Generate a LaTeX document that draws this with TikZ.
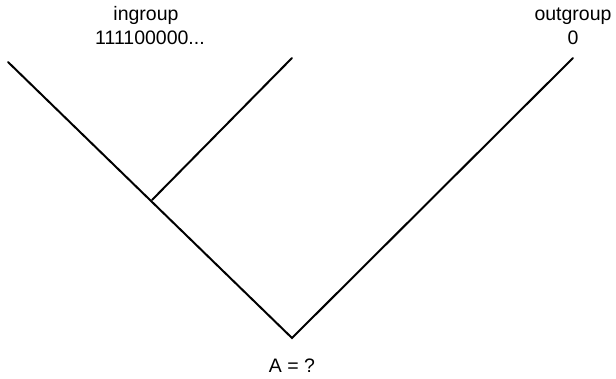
\documentclass[tikz,border=0pt]{standalone}
\usepackage{fontspec}
\setmainfont{Liberation Sans}
\usetikzlibrary{calc}
\tikzset{
  ast/.style={black,line width=2pt,line cap=round},
  lbl/.style={font=\fontsize{19.5}{22}\selectfont,inner sep=0pt,anchor=base},
}

\begin{document}
\begin{tikzpicture}[x=1pt,y=-1pt]
  \useasboundingbox (0,0) rectangle (616,379);
  % leaves, junction and root
  \coordinate (li) at (8,62);
  \coordinate (in) at (292,58);
  \coordinate (out) at (573,58);
  \coordinate (kn) at (152,200);
  \coordinate (root) at (292,338);
  \draw[ast] (li) -- (root) -- (out);
  \draw[ast] (in) -- (kn);
  % labels
  \node[lbl] (ingrp) at (146,21) {ingroup};
  \node[lbl] (inseq) at (150,45) {111100000...};
  \node[lbl] (outgrp) at (573,21) {outgroup};
  \node[lbl] (outseq) at (573,45) {0};
  \node[lbl] (anc) at (292,373) {A = ?};
\end{tikzpicture}
\end{document}
